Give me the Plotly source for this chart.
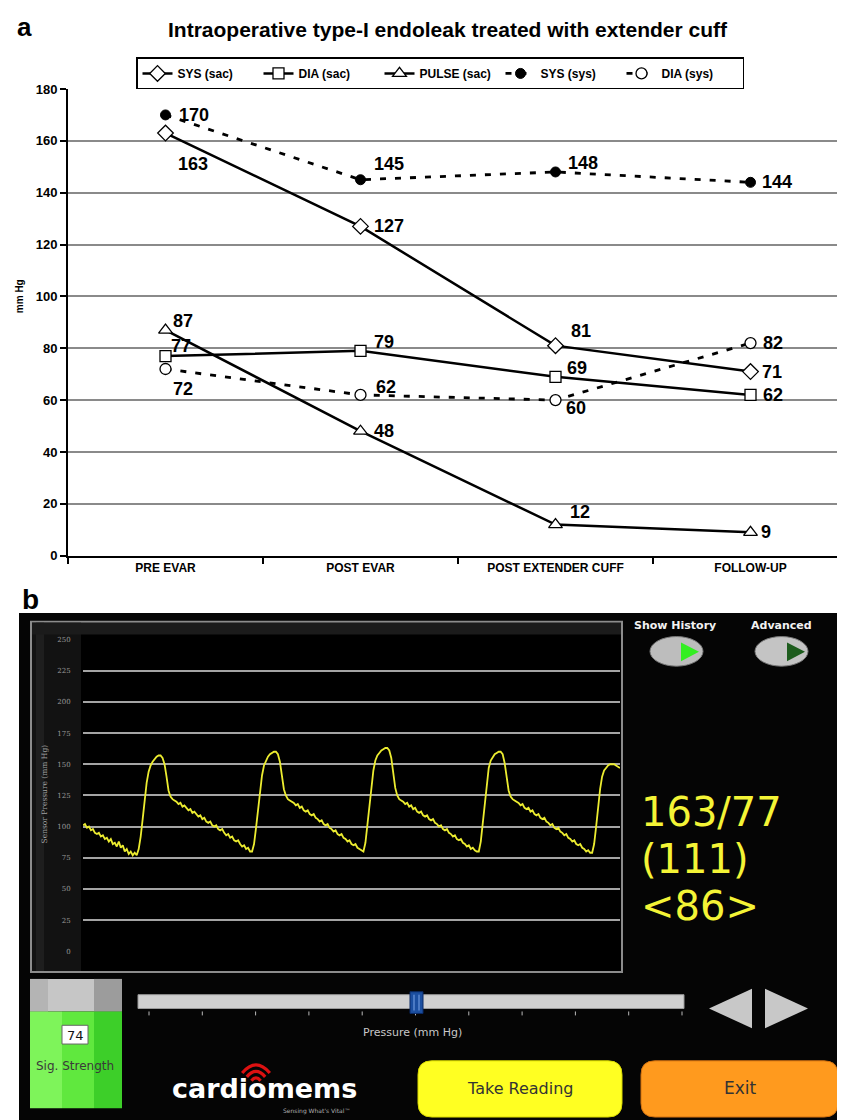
import math
import plotly.graph_objects as go

W, H = 845, 1120


def X(px):
    return px / W


def Y(py):
    return 1 - py / H


# ---------------- panel a data ----------------
categories = ["PRE EVAR", "POST EVAR", "POST EXTENDER CUFF", "FOLLOW-UP"]
sys_sac = [163, 127, 81, 71]
dia_sac = [77, 79, 69, 62]
pulse_sac = [87, 48, 12, 9]
sys_sys = [170, 145, 148, 144]
dia_sys = [72, 62, 60, 82]
y_ticks_a = [0, 20, 40, 60, 80, 100, 120, 140, 160, 180]
title_a = "Intraoperative type-I endoleak treated with extender cuff"

# ---------------- panel b data (sensor pressure samples, mm Hg) ----------------
wave_dt = 2  # sample spacing (screen time units)
wave_seg01 = [101, 102, 99, 100, 97, 98, 95, 94, 95, 92, 93, 90, 91, 88, 90, 86, 87, 84, 88, 83,
              85, 80, 82, 78, 80, 77, 79, 77]
wave_seg02 = [82, 92, 106, 121, 135, 144, 149, 152, 154, 156, 157, 157]
wave_seg03 = [155, 150, 140, 129, 124, 122, 121]
wave_seg04 = [120, 118, 119, 116, 117, 115, 113, 114, 111, 112, 110, 108, 109, 106, 107, 104, 103,
              104, 101, 100, 101, 98, 97, 98, 95, 93, 94, 91, 92, 89, 88, 89, 86, 84, 85, 82, 83, 80, 80]
wave_seg05 = [86, 99, 114, 129, 141, 149, 153, 156, 158, 159, 160, 160]
wave_seg06 = [158, 152, 141, 130, 125, 122, 121]
wave_seg07 = [120, 119, 117, 118, 115, 116, 113, 112, 113, 110, 109, 110, 107, 106, 104, 105, 102,
              101, 102, 99, 98, 96, 97, 94, 93, 94, 91, 90, 88, 89, 86, 85, 86, 83, 82, 81, 80]
wave_seg08 = [87, 101, 117, 132, 145, 153, 157, 159, 161, 162, 163, 163]
wave_seg09 = [161, 155, 143, 131, 125, 122, 121]
wave_seg10 = [120, 118, 119, 116, 117, 114, 115, 112, 111, 112, 109, 108, 109, 106, 105, 106, 103,
              102, 100, 101, 98, 97, 98, 95, 94, 92, 93, 90, 89, 90, 87, 86, 84, 85, 82, 83, 81, 80, 80]
wave_seg11 = [88, 104, 121, 136, 147, 153, 156, 158, 159, 160, 160]
wave_seg12 = [158, 151, 140, 129, 124, 122, 121]
wave_seg13 = [120, 119, 117, 118, 115, 114, 115, 112, 113, 110, 109, 110, 107, 106, 107, 104, 103,
              101, 102, 99, 98, 99, 96, 95, 93, 94, 91, 90, 88, 89, 86, 85, 86, 83, 82, 80, 81, 79, 79]
wave_seg14 = [86, 100, 116, 130, 140, 145, 147, 149, 150, 150, 150]
wave_seg15 = [149, 148, 147]
y_ticks_b = [0, 25, 50, 75, 100, 125, 150, 175, 200, 225, 250]
reading_sys_dia = "163/77"
reading_mean = "(111)"
reading_pulse = "<86>"
signal_strength = 74

wave = (wave_seg01 + wave_seg02 + wave_seg03 + wave_seg04 + wave_seg05 + wave_seg06 + wave_seg07
        + wave_seg08 + wave_seg09 + wave_seg10 + wave_seg11 + wave_seg12 + wave_seg13 + wave_seg14
        + wave_seg15)
wave_t = [i * wave_dt for i in range(len(wave))]

# ---------------- styles ----------------
ARIAL = "Liberation Sans, Arial, sans-serif"
UI = "DejaVu Sans, Verdana, sans-serif"

# label offsets (px): (dx, dy) with dy positive = up
off_sys_sac = [(10, -31), (11, 0), (13, 15), (9, 0)]
off_dia_sac = [(3, 10), (11, 9), (9, 9), (10, 0)]
off_pulse_sac = [(5, 9), (11, 0), (12, 13), (8, 0)]
off_sys_sys = [(11, 0), (11, 16), (10, 9), (9, 0)]
off_dia_sys = [(5, -20), (13, 8), (8, -8), (10, 0)]

fig = go.Figure()

series = [
    ("SYS (sac)", sys_sac, "solid", dict(symbol="diamond", size=12, color="white",
                                          line=dict(color="black", width=1.3)), off_sys_sac),
    ("DIA (sac)", dia_sac, "solid", dict(symbol="square", size=11, color="white",
                                          line=dict(color="black", width=1.3)), off_dia_sac),
    ("PULSE (sac)", pulse_sac, "solid", dict(symbol="triangle-up", size=12, color="white",
                                              line=dict(color="black", width=1.3)), off_pulse_sac),
    ("SYS (sys)", sys_sys, "6px,9px", dict(symbol="circle", size=10, color="black",
                                           line=dict(color="black", width=1)), off_sys_sys),
    ("DIA (sys)", dia_sys, "6px,9px", dict(symbol="circle", size=11, color="white",
                                           line=dict(color="black", width=1.3)), off_dia_sys),
]

annotations = []
for name, vals, dash, mk, offs in series:
    fig.add_trace(go.Scatter(
        x=categories, y=vals, name=name, mode="lines+markers",
        line=dict(color="black", width=2.5 if dash == "solid" else 2.8, dash=dash),
        marker=mk, xaxis="x", yaxis="y", cliponaxis=False, hoverinfo="skip"))
    for c, v, (dx, dy) in zip(categories, vals, offs):
        annotations.append(dict(
            x=c, y=v, xref="x", yref="y", text=str(v), showarrow=False,
            xanchor="left", yanchor="middle", xshift=dx, yshift=dy,
            font=dict(family=ARIAL, size=18, color="black", weight="bold")))

fig.add_trace(go.Scatter(
    x=wave_t, y=wave, mode="lines", line=dict(color="#ecec30", width=1.8),
    xaxis="x2", yaxis="y2", showlegend=False, hoverinfo="skip"))

# ---------------- shapes ----------------
shapes = []


def rect(x0, y0, x1, y1, fill, line=None, lw=0, layer="below"):
    d = dict(type="rect", xref="paper", yref="paper", x0=X(x0), x1=X(x1), y0=Y(y1), y1=Y(y0),
             fillcolor=fill, layer=layer, line=dict(width=lw, color=line or fill))
    shapes.append(d)


def path(pts, fill, line=None, lw=0, closed=True, layer="above"):
    s = "M " + " L ".join(f"{X(a):.5f},{Y(b):.5f}" for a, b in pts)
    if closed:
        s += " Z"
    shapes.append(dict(type="path", xref="paper", yref="paper", path=s, fillcolor=fill,
                       layer=layer, line=dict(width=lw, color=line or fill)))


def rrect(x0, y0, x1, y1, r, fill, line=None, lw=0):
    def p(a, b):
        return f"{X(a):.5f},{Y(b):.5f}"
    s = (f"M {p(x0 + r, y0)} L {p(x1 - r, y0)} Q {p(x1, y0)} {p(x1, y0 + r)} "
         f"L {p(x1, y1 - r)} Q {p(x1, y1)} {p(x1 - r, y1)} L {p(x0 + r, y1)} "
         f"Q {p(x0, y1)} {p(x0, y1 - r)} L {p(x0, y0 + r)} Q {p(x0, y0)} {p(x0 + r, y0)} Z")
    shapes.append(dict(type="path", xref="paper", yref="paper", path=s, fillcolor=fill,
                       layer="above", line=dict(width=lw, color=line or fill)))


def ellipse(x0, y0, x1, y1, fill, line=None, lw=0):
    shapes.append(dict(type="circle", xref="paper", yref="paper", x0=X(x0), x1=X(x1),
                       y0=Y(y1), y1=Y(y0), fillcolor=fill, layer="above",
                       line=dict(width=lw, color=line or fill)))


def arc(cx, cy, r, a1, a2, color, lw):
    mid = (a1 + a2) / 2
    half = math.radians((a2 - a1) / 2)

    def pt(a, rr):
        return (cx + rr * math.cos(math.radians(a)), cy - rr * math.sin(math.radians(a)))
    p0 = pt(a1, r)
    p2 = pt(a2, r)
    pc = pt(mid, r / math.cos(half))
    s = (f"M {X(p0[0]):.5f},{Y(p0[1]):.5f} Q {X(pc[0]):.5f},{Y(pc[1]):.5f} "
         f"{X(p2[0]):.5f},{Y(p2[1]):.5f}")
    shapes.append(dict(type="path", xref="paper", yref="paper", path=s, layer="above",
                       line=dict(width=lw, color=color)))


# panel b background
rect(11, 606, 840, 1120, "#050505")
rect(23, 615, 614, 970, "#000000", line="#8c8c8c", lw=2)
rect(24, 616, 73, 969, "#121212")
rect(28, 616, 36, 969, "#1e1e1e")
rect(24, 616, 613, 628, "#1b1b1b")

# buttons top right
ellipse(642, 630, 695, 660, "#bdbdbd", line="#7a7a7a", lw=1)
path([(673, 636), (673, 655), (691, 645.5)], "#33ee22")
ellipse(747, 630, 800, 660, "#c4c4c4", line="#7a7a7a", lw=1)
path([(779, 636), (779, 655), (797, 645.5)], "#1d5c1d")

# signal strength box
rect(22, 977, 114, 1010, "#c6c6c6", layer="above")
rect(22, 977, 40, 1010, "#b4b4b4", layer="above")
rect(86, 977, 114, 1010, "#9c9c9c", layer="above")
rect(22, 1010, 54, 1108, "#7ef45a", layer="above")
rect(54, 1010, 86, 1108, "#60e83e", layer="above")
rect(86, 1010, 114, 1108, "#3dcf29", layer="above")
rect(54, 1024, 80, 1043, "#ffffff", line="#666666", lw=1, layer="above")

# slider
rect(130, 993, 676, 1007, "#d0d0d0", line="#9a9a9a", lw=1, layer="above")
for i in range(11):
    tx = 141 + i * (674 - 141) / 10
    shapes.append(dict(type="line", xref="paper", yref="paper", x0=X(tx), x1=X(tx),
                       y0=Y(1010), y1=Y(1014), line=dict(color="#bbbbbb", width=1)))
rect(402, 990, 415, 1012, "#1c4fa0", line="#0a2a66", lw=1, layer="above")
shapes.append(dict(type="line", xref="paper", yref="paper", x0=X(406), x1=X(406),
                   y0=Y(1009), y1=Y(993), line=dict(color="#7aa6e8", width=1)))
shapes.append(dict(type="line", xref="paper", yref="paper", x0=X(411), x1=X(411),
                   y0=Y(1009), y1=Y(993), line=dict(color="#7aa6e8", width=1)))

# arrows
path([(701, 1007), (744, 987), (744, 1027)], "#c8c8c8")
path([(757, 987), (757, 1027), (800, 1007)], "#c8c8c8")

# big buttons
rrect(410, 1060, 614, 1117, 14, "#ffff22", line="#d8d800", lw=1)
rrect(633, 1060, 830, 1117, 14, "#ff9a1e", line="#d07010", lw=1)

# cardiomems logo arcs
for rr in (6, 12, 18):
    arc(248, 1084, rr, 40, 140, "#dd1111", 3.2)

# ---------------- annotations (text) ----------------
def txt(x, y, s, size, color="black", family=ARIAL, weight="normal", xanchor="center",
        angle=0):
    annotations.append(dict(x=X(x), y=Y(y), xref="paper", yref="paper", text=s, showarrow=False,
                            xanchor=xanchor, yanchor="middle", textangle=angle,
                            font=dict(family=family, size=size, color=color, weight=weight)))


txt(16, 12, "a", 26, weight="bold")
txt(440, 15, title_a, 21, weight="bold")
txt(11, 285, "mm Hg", 10, weight="bold", angle=-90)
txt(22, 592, "b", 28, weight="bold")

txt(36, 790, "Sensor Pressure (mm Hg)", 7.5, color="#a0a0a0", family="DejaVu Serif, serif",
    angle=-90)
txt(667, 619, "Show History", 11, color="#f2f2f2", family=UI, weight="bold")
txt(773, 619, "Advanced", 11, color="#f2f2f2", family=UI, weight="bold")
txt(631, 808, reading_sys_dia, 40, color="#f4f436", family=UI, xanchor="left")
txt(631, 855, reading_mean, 40, color="#f4f436", family=UI, xanchor="left")
txt(631, 903, reading_pulse, 40, color="#f4f436", family=UI, xanchor="left")
txt(404, 1031, "Pressure (mm Hg)", 11, color="#c8c8c8", family=UI)
txt(67, 1034, str(signal_strength), 13, color="#111111", family=UI)
txt(67, 1065, "Sig. Strength", 12, color="#3a3a3a", family=UI)
txt(256, 1088, "cardiomems", 27, color="#ffffff", family=UI, weight="bold")
txt(308, 1111, "Sensing What's Vital™", 6, color="#b0b0b0", family=UI)
txt(512, 1088, "Take Reading", 16, color="#333333", family=UI)
txt(732, 1088, "Exit", 17, color="#333333", family=UI)

fig.update_layout(
    width=W, height=H, autosize=False,
    margin=dict(l=0, r=0, t=0, b=0, pad=0),
    paper_bgcolor="white", plot_bgcolor="rgba(0,0,0,0)",
    hovermode=False,
    showlegend=True,
    legend=dict(orientation="h", x=X(128), xanchor="left", y=Y(43), yanchor="top",
                bordercolor="black", borderwidth=1.5, bgcolor="white",
                font=dict(family=ARIAL, size=12, color="black", weight="bold"),
                itemwidth=30, tracegroupgap=0, entrywidth=76, entrywidthmode="pixels"),
    xaxis=dict(domain=[X(60), X(840)], type="category", categoryorder="array",
               categoryarray=categories, range=[-0.5, 3.5], tickson="boundaries",
               ticks="outside", ticklen=6, tickwidth=1.5, tickcolor="black",
               showline=True, linecolor="black", linewidth=2, showgrid=False, zeroline=False,
               tickfont=dict(family=ARIAL, size=12, color="black", weight="bold"),
               anchor="y", fixedrange=True),
    yaxis=dict(domain=[Y(548), Y(75)], range=[0, 180], tickvals=y_ticks_a,
               ticks="outside", ticklen=6, tickwidth=1.5, tickcolor="black",
               showline=True, linecolor="black", linewidth=2, showgrid=True,
               gridcolor="#8a8a8a", gridwidth=1.6, zeroline=False,
               tickfont=dict(family=ARIAL, size=13, color="black", weight="bold"),
               anchor="x", fixedrange=True),
    xaxis2=dict(domain=[X(75), X(612)], range=[0, 540], visible=False, anchor="y2",
                fixedrange=True),
    yaxis2=dict(domain=[Y(949), Y(633)], range=[0, 250], tickvals=y_ticks_b,
                showgrid=True, gridcolor="#a4a4a4", gridwidth=1.6, zeroline=False,
                showline=False, ticks="outside", ticklen=10, tickcolor="rgba(0,0,0,0)",
                tickfont=dict(family="DejaVu Serif, serif", size=7, color="#9a9a9a"),
                anchor="x2", fixedrange=True),
    shapes=shapes,
    annotations=annotations,
)

fig.write_html("out.html", config={"displayModeBar": False})
